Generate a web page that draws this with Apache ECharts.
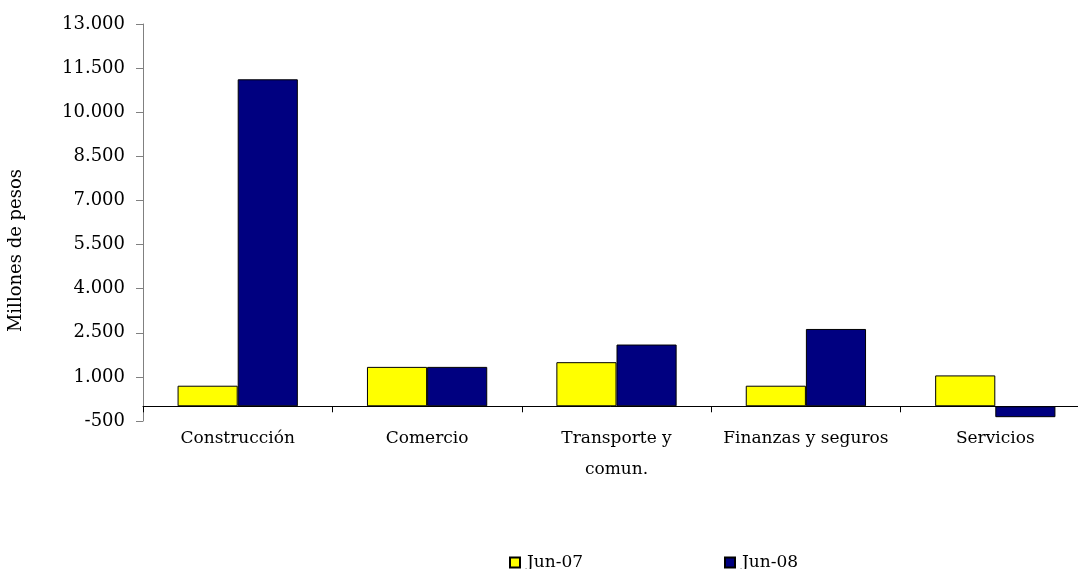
<!DOCTYPE html>
<html>
<head>
<meta charset="utf-8">
<script src="https://cdn.jsdelivr.net/npm/echarts@6/dist/echarts.min.js"></script>
<style>
  html, body { margin: 0; padding: 0; background: #fff; }
  #main { width: 1078px; height: 569px; }
</style>
</head>
<body>
<div id="main"></div>
<script>
// datos
const categorias = ['Construcción', 'Comercio', 'Transporte y\ncomun.', 'Finanzas y seguros', 'Servicios'];
const jun07 = [700, 1340, 1500, 700, 1050];
const jun08 = [11120, 1340, 2100, 2630, -370];
const yTicks = [-500, 1000, 2500, 4000, 5500, 7000, 8500, 10000, 11500, 13000];

const fuente = 'DejaVu Serif';

function fmt(v) {
  const s = String(Math.abs(v)).replace(/\B(?=(\d{3})+(?!\d))/g, '.');
  return (v < 0 ? '-' : '') + s;
}

const chart = echarts.init(document.getElementById('main'));

const leyenda = (nombre, x) => ({
  data: [nombre],
  left: x,
  top: 549,
  icon: 'rect',
  itemWidth: 10,
  itemHeight: 10,
  textStyle: { fontFamily: fuente, fontSize: 17, color: '#000', padding: [0, 0, 0, 2] }
});

const option = {
  animation: false,
  backgroundColor: '#fff',
  // el área de trazado sobrepasa un poco el borde derecho, como en el original
  grid: { left: 143, right: -12, top: 24, bottom: 148, containLabel: false, outerBoundsMode: 'none' },
  legend: [leyenda('Jun-07', 504), leyenda('Jun-08', 719)],
  xAxis: {
    type: 'category',
    data: categorias,
    axisLine: { onZero: true, lineStyle: { color: '#000', width: 1 } },
    axisTick: { show: true, length: 6, lineStyle: { color: '#000' } },
    axisLabel: {
      fontFamily: fuente,
      fontSize: 17,
      color: '#000',
      margin: 2,
      lineHeight: 31,
      interval: 0
    }
  },
  yAxis: {
    type: 'value',
    min: -500,
    max: 13000,
    name: 'Millones de pesos',
    nameLocation: 'middle',
    nameRotate: 90,
    nameGap: 118,
    nameTextStyle: { fontFamily: fuente, fontSize: 18, color: '#000', padding: [0, 56, 0, 0] },
    axisLine: { show: true, lineStyle: { color: '#808080' } },
    axisTick: { show: true, length: 7, lineStyle: { color: '#808080' }, customValues: yTicks },
    axisLabel: {
      fontFamily: fuente,
      fontSize: 18,
      color: '#000',
      margin: 18,
      customValues: yTicks,
      formatter: fmt
    },
    splitLine: { show: false }
  },
  series: [
    {
      name: 'Jun-07',
      type: 'bar',
      data: jun07,
      barGap: '0%',
      barCategoryGap: '36.5%',
      itemStyle: { color: '#ffff00', borderColor: '#000', borderWidth: 1 }
    },
    {
      name: 'Jun-08',
      type: 'bar',
      data: jun08,
      itemStyle: { color: '#000080', borderColor: '#000', borderWidth: 1 }
    }
  ]
};

chart.setOption(option);
</script>
</body>
</html>
